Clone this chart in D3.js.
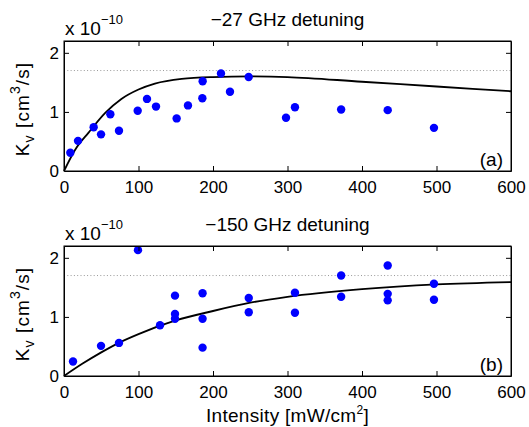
<!DOCTYPE html>
<html>
<head>
<meta charset="utf-8">
<script src="https://cdn.jsdelivr.net/npm/d3@7"></script>
<style>
  body { margin: 0; background: #fff; }
  svg { font-family: "Liberation Sans", Arial, Helvetica, sans-serif; }
  .axis path { stroke: #000; }
  .axis line { stroke: #000; }
</style>
</head>
<body>
<div id="chart"></div>
<script>
// measured points, panel (a): -27 GHz detuning
const aIntensity = [8.5, 18.8, 39.8, 49.7, 62.2, 73.8, 98.9, 111.4, 123.5, 151.2, 166.4, 186.1, 185.7, 210.7, 222.8, 247.9, 298, 310, 372, 434.5, 496.6];
const aK = [0.31, 0.51, 0.74, 0.62, 0.96, 0.68, 1.02, 1.22, 1.09, 0.89, 1.11, 1.52, 1.23, 1.65, 1.34, 1.59, 0.90, 1.08, 1.04, 1.03, 0.73];

// fit curve (a)
const aFitI = [0, 15, 33, 55, 77, 100, 122, 158, 200, 250, 300, 400, 500, 600];
const aFitK = [0, 0.36, 0.65, 0.98, 1.22, 1.38, 1.48, 1.56, 1.59, 1.60, 1.59, 1.51, 1.43, 1.35];

// measured points, panel (b): -150 GHz detuning
const bIntensity = [12.1, 49.7, 73.8, 99.3, 128.9, 149, 149, 149, 186, 186, 186, 248, 248, 310, 310, 372, 372, 434.5, 434.5, 434.5, 496.6, 496.6];
const bK = [0.245, 0.51, 0.56, 2.13, 0.86, 1.36, 1.05, 0.97, 1.40, 0.97, 0.48, 1.32, 1.08, 1.41, 1.07, 1.70, 1.34, 1.87, 1.39, 1.28, 1.56, 1.29];

// fit curve (b)
const bFitI = [0, 25, 50, 75, 100, 150, 200, 250, 300, 400, 500, 600];
const bFitK = [0, 0.21, 0.40, 0.57, 0.71, 0.94, 1.10, 1.24, 1.34, 1.47, 1.55, 1.59];

const limitK = 1.7;   // dotted reference level
const xTicks = [0, 100, 200, 300, 400, 500, 600];
const yTicks = [0, 1, 2];

const width = 529, height = 427;
const plotLeft = 64, plotRight = 511, plotH = 130;
const tickFs = 17, labelFs = 19, smallFs = 13;

const svg = d3.select("#chart").append("svg")
    .attr("width", width)
    .attr("height", height);

const x = d3.scaleLinear().domain([0, 600]).range([plotLeft, plotRight]);

function drawPanel({ top, title, tag, xs, ys, fitX, fitY, showXLabel }) {
    const y = d3.scaleLinear().domain([0, 2.2]).range([top + plotH, top]);
    const g = svg.append("g");

    // dotted level
    g.append("line")
        .attr("x1", x(0)).attr("x2", x(600))
        .attr("y1", y(limitK)).attr("y2", y(limitK))
        .attr("stroke", "#999")
        .attr("stroke-width", 1)
        .attr("stroke-dasharray", "1,2.3");

    // fit line
    const line = d3.line()
        .x((d, i) => x(fitX[i]))
        .y((d, i) => y(fitY[i]))
        .curve(d3.curveMonotoneX);
    g.append("path")
        .attr("d", line(fitX))
        .attr("fill", "none")
        .attr("stroke", "#000")
        .attr("stroke-width", 1.8);

    // data points
    g.selectAll("circle")
        .data(xs)
        .join("circle")
        .attr("cx", d => x(d))
        .attr("cy", (d, i) => y(ys[i]))
        .attr("r", 4.2)
        .attr("fill", "#0000ff");

    // axes, matlab style ticks pointing in
    g.append("g").attr("class", "axis")
        .attr("transform", `translate(0,${top + plotH})`)
        .call(d3.axisBottom(x).tickValues(xTicks).tickSize(-5).tickPadding(10).tickSizeOuter(0));
    g.append("g").attr("class", "axis")
        .attr("transform", `translate(0,${top})`)
        .call(d3.axisTop(x).tickValues(xTicks).tickSize(-5).tickFormat("").tickSizeOuter(0));
    g.append("g").attr("class", "axis")
        .attr("transform", `translate(${plotLeft},0)`)
        .call(d3.axisLeft(y).tickValues(yTicks).tickFormat(d3.format("d")).tickSize(-5).tickPadding(5).tickSizeOuter(0));
    g.append("g").attr("class", "axis")
        .attr("transform", `translate(${plotRight},0)`)
        .call(d3.axisRight(y).tickValues(yTicks).tickSize(-5).tickFormat("").tickSizeOuter(0));

    g.selectAll(".axis").attr("font-size", tickFs).attr("font-family", null);
    g.selectAll(".axis text").attr("fill", "#000");

    // drop the end ticks that sit on the box corners
    g.selectAll(".axis .tick line").filter(function() {
        const t = d3.select(this.parentNode).datum();
        return t === 0 || t === 600;
    }).remove();

    g.append("rect")
        .attr("x", plotLeft).attr("y", top)
        .attr("width", plotRight - plotLeft).attr("height", plotH)
        .attr("fill", "none").attr("stroke", "#000").attr("stroke-width", 1);

    // title
    g.append("text")
        .attr("x", (plotLeft + plotRight) / 2)
        .attr("y", top - 15)
        .attr("text-anchor", "middle")
        .attr("font-size", labelFs)
        .text(title);

    // exponent
    const ex = g.append("text")
        .attr("x", plotLeft + 1)
        .attr("y", top - 6)
        .attr("font-size", labelFs);
    ex.append("tspan").text("x 10");
    ex.append("tspan").attr("font-size", smallFs).attr("dy", -11).text("\u221210");

    // panel tag
    g.append("text")
        .attr("x", plotRight - 8)
        .attr("y", top + plotH - 5)
        .attr("text-anchor", "end")
        .attr("font-size", labelFs)
        .text(tag);

    // y label
    const yl = g.append("text")
        .attr("transform", `translate(29,${top + plotH / 2 + 3}) rotate(-90)`)
        .attr("text-anchor", "middle")
        .attr("font-size", labelFs)
        .attr("letter-spacing", 1.1);
    yl.append("tspan").text("K");
    yl.append("tspan").attr("font-size", smallFs + 1).attr("dy", 5).text("v");
    yl.append("tspan").attr("dy", -5).text(" [cm");
    yl.append("tspan").attr("font-size", smallFs + 1).attr("dy", -9).text("3");
    yl.append("tspan").attr("dy", 9).text("/s]");

    if (showXLabel) {
        const xl = g.append("text")
            .attr("x", (plotLeft + plotRight) / 2)
            .attr("y", top + plotH + 46)
            .attr("text-anchor", "middle")
            .attr("font-size", labelFs)
            .attr("letter-spacing", 0.3);
        xl.append("tspan").text("Intensity [mW/cm");
        xl.append("tspan").attr("font-size", 12).attr("dy", -8).text("2");
        xl.append("tspan").attr("dy", 8).text("]");
    }
}

drawPanel({ top: 41, title: "\u221227 GHz detuning", tag: "(a)",
    xs: aIntensity, ys: aK, fitX: aFitI, fitY: aFitK, showXLabel: false });
drawPanel({ top: 246, title: "\u2212150 GHz detuning", tag: "(b)",
    xs: bIntensity, ys: bK, fitX: bFitI, fitY: bFitK, showXLabel: true });
</script>
</body>
</html>
